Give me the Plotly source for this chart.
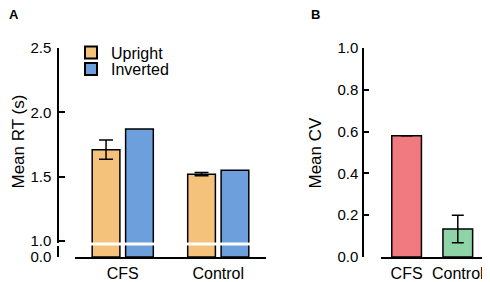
import plotly.graph_objects as go

# ---- data ----
groups = ["CFS", "Control"]
upright_rt = [1.71, 1.52]
upright_err = [0.075, 0.013]
inverted_rt = [1.87, 1.55]

cv_groups = ["CFS", "Control"]
cv_values = [0.58, 0.134]
cv_err = [0.0, 0.066]

rt_ticks = [1.0, 1.5, 2.0, 2.5]
cv_ticks = [0.0, 0.2, 0.4, 0.6, 0.8, 1.0]

# ---- style ----
W, H = 490, 282
OX, OY = 8, 8  # page body margin in the browser
FONT = "Liberation Sans, Arial, Helvetica, sans-serif"
C_UP = "#F5C27C"
C_INV = "#6C9FDC"
C_CFS = "#F07A80"
C_CTRL = "#8ED4A6"
LINE = dict(color="black", width=1.5)


def px(x):
    """window pixel x -> paper fraction"""
    return (x - OX) / W


def py(y):
    """window pixel y -> paper fraction"""
    return 1 - (y - OY) / H


fig = go.Figure()

bar_w = 0.29
off_up = -0.32
off_inv = 0.03

fig.add_trace(go.Bar(x=groups, y=upright_rt, name="Upright", xaxis="x", yaxis="y",
                     marker=dict(color=C_UP, line=LINE), width=bar_w, offset=off_up,
                     error_y=dict(type="data", array=upright_err, color="black",
                                  thickness=1.5, width=7),
                     legendgroup="up", legend="legend"))
fig.add_trace(go.Bar(x=groups, y=inverted_rt, name="Inverted", xaxis="x", yaxis="y",
                     marker=dict(color=C_INV, line=LINE), width=bar_w, offset=off_inv,
                     legendgroup="inv", legend="legend2"))
fig.add_trace(go.Bar(x=groups, y=upright_rt, name="Upright", xaxis="x", yaxis="y2",
                     marker=dict(color=C_UP, line=LINE), width=bar_w, offset=off_up,
                     showlegend=False, legendgroup="up"))
fig.add_trace(go.Bar(x=groups, y=inverted_rt, name="Inverted", xaxis="x", yaxis="y2",
                     marker=dict(color=C_INV, line=LINE), width=bar_w, offset=off_inv,
                     showlegend=False, legendgroup="inv"))

fig.add_trace(go.Bar(x=cv_groups, y=cv_values, xaxis="x3", yaxis="y3",
                     marker=dict(color=[C_CFS, C_CTRL], line=LINE), width=0.58,
                     error_y=dict(type="data", array=cv_err, color="black",
                                  thickness=1.5, width=6),
                     showlegend=False))

axis_common = dict(showline=True, linecolor="black", linewidth=1.5,
                   showgrid=False, zeroline=False, automargin=False,
                   tickfont=dict(family=FONT, size=15, color="black"))
xfont = dict(family=FONT, size=16, color="black")
legend_common = dict(xanchor="left", yanchor="middle", bgcolor="rgba(0,0,0,0)",
                     font=dict(family=FONT, size=16, color="black"),
                     borderwidth=0, itemsizing="constant")

fig.update_layout(
    width=W, height=H, autosize=False,
    margin=dict(l=0, r=0, t=0, b=0, pad=0, autoexpand=False),
    paper_bgcolor="white", plot_bgcolor="rgba(0,0,0,0)",
    font=dict(family=FONT, color="black"),
    barmode="overlay",
    xaxis=dict(axis_common, domain=[px(75), px(266)], range=[-0.5, 1.5],
               anchor="y2", ticks="", type="category", tickfont=xfont,
               ticklabelstandoff=1),
    yaxis=dict(axis_common, domain=[py(242.5), py(48)], range=[0.989, 2.5],
               anchor="free", position=px(58), tickvals=rt_ticks,
               ticktext=[f"{v:.1f}" for v in rt_ticks],
               ticks="inside", ticklen=6, tickwidth=1.5, tickcolor="black",
               ticklabelstandoff=3),
    yaxis2=dict(axis_common, domain=[py(257), py(245.5)], range=[0, 0.09],
                anchor="free", position=px(58), tickvals=[0.0], ticktext=["0.0"],
                ticks="inside", ticklen=6, tickwidth=1.5, tickcolor="black",
                ticklabelstandoff=3),
    xaxis3=dict(axis_common, domain=[px(381), px(488)], range=[-0.5, 1.59],
                anchor="y3", ticks="", type="category", tickfont=xfont,
                ticklabelstandoff=1),
    yaxis3=dict(axis_common, domain=[py(257), py(48)], range=[0, 1],
                anchor="free", position=px(363), tickvals=cv_ticks,
                ticktext=[f"{v:.1f}" for v in cv_ticks],
                ticks="inside", ticklen=5, tickwidth=1.5, tickcolor="black",
                ticklabelstandoff=1),
    legend=dict(legend_common, x=px(71), y=py(52.5)),
    legend2=dict(legend_common, x=px(71), y=py(69)),
    showlegend=True,
)

fig.add_annotation(text="Mean RT (s)", x=px(17.5), y=py(142), xref="paper", yref="paper",
                   textangle=-90, showarrow=False, xanchor="center", yanchor="middle",
                   font=dict(family=FONT, size=17, color="black"))
fig.add_annotation(text="Mean CV", x=px(315), y=py(152.5), xref="paper", yref="paper",
                   textangle=-90, showarrow=False, xanchor="center", yanchor="middle",
                   font=dict(family=FONT, size=17, color="black"))
fig.add_annotation(text="<b>A</b>", x=px(13.5), y=py(15), xref="paper", yref="paper",
                   showarrow=False, xanchor="center", yanchor="middle",
                   font=dict(family=FONT, size=13, color="black"))
fig.add_annotation(text="<b>B</b>", x=px(315), y=py(15), xref="paper", yref="paper",
                   showarrow=False, xanchor="center", yanchor="middle",
                   font=dict(family=FONT, size=13, color="black"))

fig.write_html("out.html")
